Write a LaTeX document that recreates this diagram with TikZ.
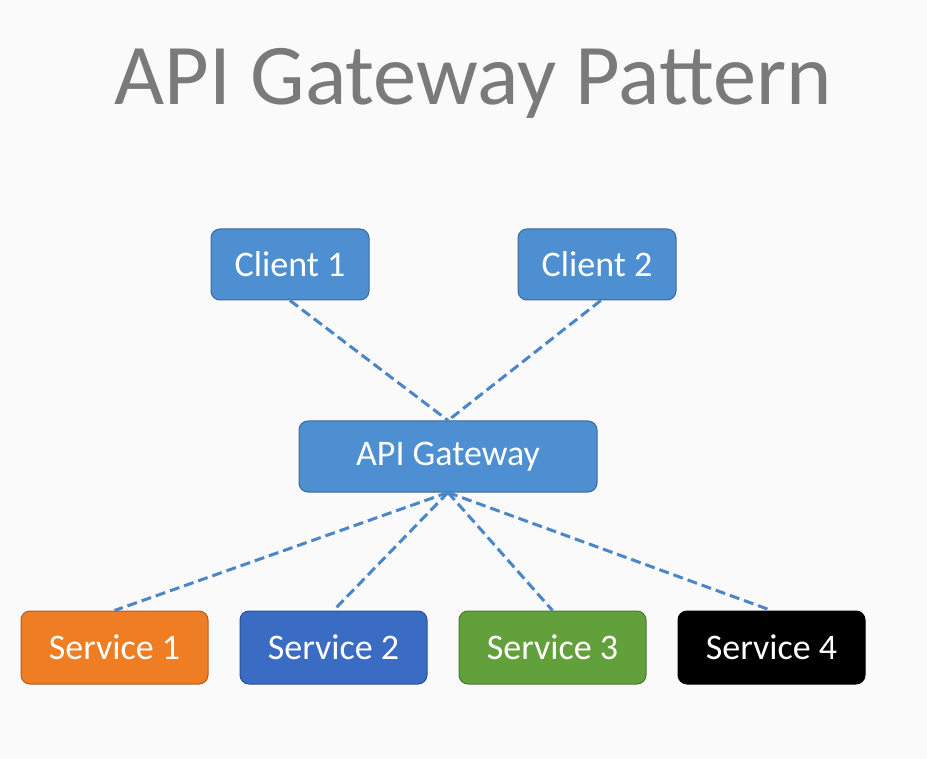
\documentclass[tikz,border=0pt]{standalone}
\usepackage{fontspec}
\setmainfont{Carlito}
\usepackage{tikz}
\usetikzlibrary{positioning}
\usepackage{xcolor}

\definecolor{bgcol}{HTML}{FAFAFA}
\definecolor{titlecol}{HTML}{7A7A7A}
\definecolor{linkcol}{HTML}{4A86C8}
\definecolor{clientcol}{HTML}{4E8FD2}
\definecolor{clientline}{HTML}{3A6A9A}
\definecolor{orangecol}{HTML}{EE7D24}
\definecolor{orangeline}{HTML}{B05C20}
\definecolor{bluecol}{HTML}{3B6CC4}
\definecolor{blueline}{HTML}{2B4F8E}
\definecolor{greencol}{HTML}{62A03C}
\definecolor{greenline}{HTML}{4A7A2E}

\tikzset{
  box/.style={rounded corners=9pt, line width=1pt, text=white,
    minimum height=71pt, inner sep=0pt, font=\fontsize{36}{40}\selectfont},
  clientbox/.style={box, fill=clientcol, draw=clientline, minimum width=158pt},
  servicebox/.style={box, minimum width=187pt, minimum height=73pt},
  link/.style={draw=linkcol, line width=3pt, dash pattern=on 10pt off 5pt}
}

\begin{document}
\begin{tikzpicture}[x=1pt,y=-1pt]
\fill[bgcol] (0,0) rectangle (927,759);
\useasboundingbox (0,0) rectangle (927,759);
\node[anchor=base,text=titlecol,font=\fontsize{86.5}{92}\selectfont] (title) at (473,105) {API Gateway Pattern};
% clients and gateway
\node[clientbox] (c1) at (290,264.5) {Client 1};
\node[clientbox] (c2) at (597,264.5) {Client 2};
\node[clientbox,minimum width=298pt] (gw) at (448,456.5) {API Gateway};
% services
\node[servicebox,fill=orangecol,draw=orangeline] (s1) at (114.5,647.5) {Service 1};
\node[servicebox,fill=bluecol,draw=blueline] (s2) at (333.5,647.5) {Service 2};
\node[servicebox,fill=greencol,draw=greenline] (s3) at (552.5,647.5) {Service 3};
\node[servicebox,fill=black,draw=black] (s4) at (771.5,647.5) {Service 4};
% dashed links
\path[link] (c1.south) -- (gw.north);
\path[link] (c2.-84) -- (gw.north);
\path[link] (gw.south) -- (s1.north);
\path[link] (gw.south) -- (s2.north);
\path[link] (gw.south) -- (s3.north);
\path[link] (gw.south) -- (s4.north);
\end{tikzpicture}
\end{document}
